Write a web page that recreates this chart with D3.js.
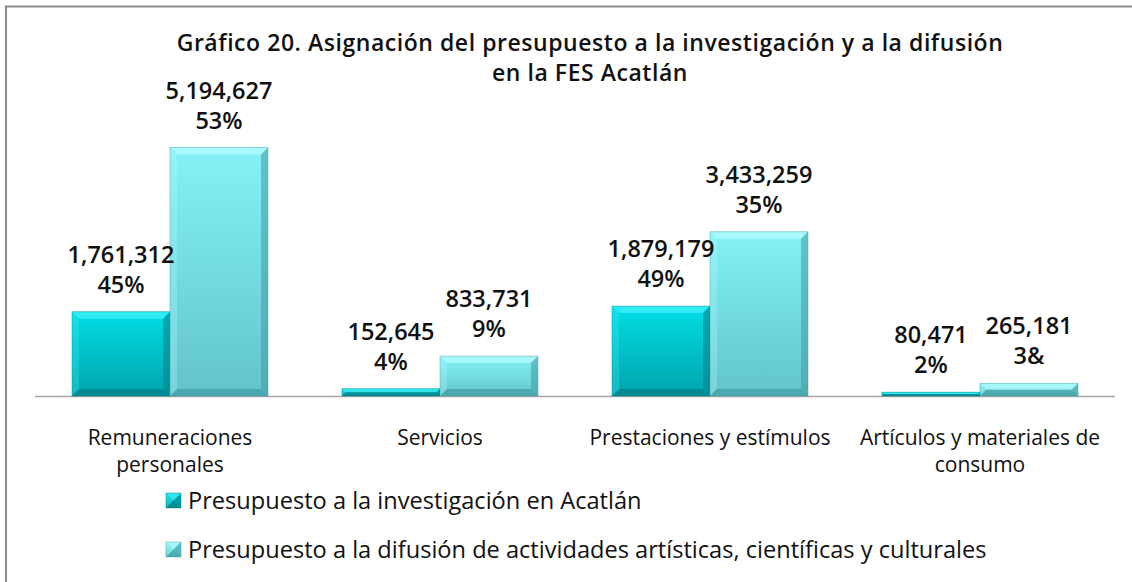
<!DOCTYPE html>
<html>
<head>
<meta charset="utf-8">
<script src="https://cdn.jsdelivr.net/npm/d3@7"></script>
<style>
  body { margin: 0; background: #fff; }
  svg { display: block; font-family: "Open Sans", "Noto Sans", sans-serif; }
</style>
</head>
<body>
<div id="chart"></div>
<script>
// chart data
var categories = ["Remuneraciones personales", "Servicios", "Prestaciones y estímulos", "Artículos y materiales de consumo"];
var catLines = [["Remuneraciones", "personales"], ["Servicios"], ["Prestaciones y estímulos"], ["Artículos y materiales de", "consumo"]];
var investigacion = [1761312, 152645, 1879179, 80471];
var difusion = [5194627, 833731, 3433259, 265181];
var pctInvestigacion = ["45%", "4%", "49%", "2%"];
var pctDifusion = ["53%", "9%", "35%", "3&"];
var seriesNames = ["Presupuesto a la investigación en Acatlán", "Presupuesto a la difusión de actividades artísticas, científicas y culturales"];
var titleLines = ["Gráfico 20. Asignación del presupuesto a la investigación y a la difusión", "en la FES Acatlán"];

w = 1132;
h = 582;

var svg = d3.select("#chart").append("svg")
    .attr("width", w)
    .attr("height", h);

// gradients for the two series
var defs = svg.append("defs");
var palettes = [
    { id: "g0", top: "#00dde5", bottom: "#00a4ac", light: "#40f0f6", dark: "#007f86" },
    { id: "g1", top: "#84f2f8", bottom: "#62c4cb", light: "#b4fafd", dark: "#3f9ca3" }
];
palettes.forEach(function (p) {
    var g = defs.append("linearGradient").attr("id", p.id)
        .attr("x1", 0).attr("y1", 0).attr("x2", 0).attr("y2", 1);
    g.append("stop").attr("offset", "0%").attr("stop-color", p.top);
    g.append("stop").attr("offset", "100%").attr("stop-color", p.bottom);
});

// outer frame (only top and left visible)
svg.append("line").attr("x1", 5).attr("y1", 6.5).attr("x2", w).attr("y2", 6.5)
    .attr("stroke", "#8a8a8a").attr("stroke-width", 2);
svg.append("line").attr("x1", 6).attr("y1", 6).attr("x2", 6).attr("y2", h)
    .attr("stroke", "#8a8a8a").attr("stroke-width", 2);

// title
svg.append("g").selectAll("text")
    .data(titleLines)
    .enter().append("text")
    .attr("x", 590)
    .attr("y", (d, i) => 51 + i * 30)
    .attr("text-anchor", "middle")
    .attr("font-size", 23)
    .attr("font-weight", 600)
    .attr("letter-spacing", 0.55)
    .attr("fill", "#111")
    .text(d => d);

// scales
var x0 = d3.scaleBand()
    .domain(categories)
    .range([35, 1115])
    .paddingInner(0.274)
    .paddingOuter(0.137);

var x1 = d3.scaleBand()
    .domain([0, 1])
    .range([0, x0.bandwidth()]);

var y = d3.scaleLinear()
    .domain([0, 6000000])
    .range([396, 109]);

// baseline
svg.append("line")
    .attr("x1", 35).attr("x2", 1115)
    .attr("y1", y(0) + 0.5).attr("y2", y(0) + 0.5)
    .attr("stroke", "#a6a6a6").attr("stroke-width", 1.5);

var rows = categories.map(function (c, i) {
    return [
        { cat: c, s: 0, v: investigacion[i], pct: pctInvestigacion[i] },
        { cat: c, s: 1, v: difusion[i], pct: pctDifusion[i] }
    ];
});

// draw a bevelled bar
function bevelBar(g, bx, by, bw, bh, p) {
    g.append("rect").attr("x", bx).attr("y", by).attr("width", bw).attr("height", bh)
        .attr("fill", "url(#" + p.id + ")");
    var b = Math.min(7, bh / 2);
    var x2 = bx + bw, y2 = by + bh;
    // top
    g.append("polygon")
        .attr("points", [[bx, by], [x2, by], [x2 - b, by + b], [bx + b, by + b]].join(" "))
        .attr("fill", p.light).attr("opacity", 0.75);
    // left
    g.append("polygon")
        .attr("points", [[bx, by], [bx + b, by + b], [bx + b, y2 - b], [bx, y2]].join(" "))
        .attr("fill", p.light).attr("opacity", 0.3);
    // right
    g.append("polygon")
        .attr("points", [[x2, by], [x2, y2], [x2 - b, y2 - b], [x2 - b, by + b]].join(" "))
        .attr("fill", p.dark).attr("opacity", 0.55);
    // bottom
    g.append("polygon")
        .attr("points", [[bx, y2], [x2, y2], [x2 - b, y2 - b], [bx + b, y2 - b]].join(" "))
        .attr("fill", p.dark).attr("opacity", 0.7);
    g.append("rect").attr("x", bx).attr("y", by).attr("width", bw).attr("height", bh)
        .attr("fill", "none").attr("stroke", p.dark).attr("stroke-opacity", 0.5).attr("stroke-width", 0.8);
}

var groups = svg.append("g").selectAll("g")
    .data(rows)
    .enter().append("g")
    .attr("transform", d => "translate(" + x0(d[0].cat) + ",0)");

groups.each(function (d) {
    var g = d3.select(this);
    d.forEach(function (r) {
        bevelBar(g, x1(r.s), y(r.v), x1.bandwidth(), y(0) - y(r.v), palettes[r.s]);
    });
});

// value labels (drawn after bars so they overlap them)
groups.each(function (d) {
    var g = d3.select(this);
    d.forEach(function (r) {
        var cx = x1(r.s) + x1.bandwidth() / 2;
        var t = g.append("text")
            .attr("text-anchor", "middle")
            .attr("font-size", 23.5)
            .attr("font-weight", 600)
            .attr("fill", "#111");
        t.append("tspan").attr("x", cx).attr("y", y(r.v) - 49).text(d3.format(",")(r.v));
        t.append("tspan").attr("x", cx).attr("y", y(r.v) - 19).text(r.pct);
    });
});

// category labels
svg.append("g").selectAll("text")
    .data(categories)
    .enter().append("text")
    .attr("text-anchor", "middle")
    .attr("font-size", 21)
    .attr("font-weight", 500)
    .attr("fill", "#111")
    .each(function (c, i) {
        var t = d3.select(this);
        catLines[i].forEach(function (line, j) {
            t.append("tspan")
                .attr("x", x0(c) + x0.bandwidth() / 2)
                .attr("y", 445 + j * 27)
                .text(line);
        });
    });

// legend
var legend = svg.append("g").selectAll("g")
    .data(seriesNames)
    .enter().append("g")
    .attr("transform", (d, i) => "translate(166," + (493 + i * 49) + ")");

legend.each(function (d, i) {
    var g = d3.select(this);
    bevelBar(g, 0, 0, 15, 15, palettes[i]);
});

legend.append("text")
    .attr("x", 22)
    .attr("y", 16)
    .attr("font-size", 23.6)
    .attr("font-weight", 500)
    .attr("fill", "#111")
    .text(d => d);
</script>
</body>
</html>
